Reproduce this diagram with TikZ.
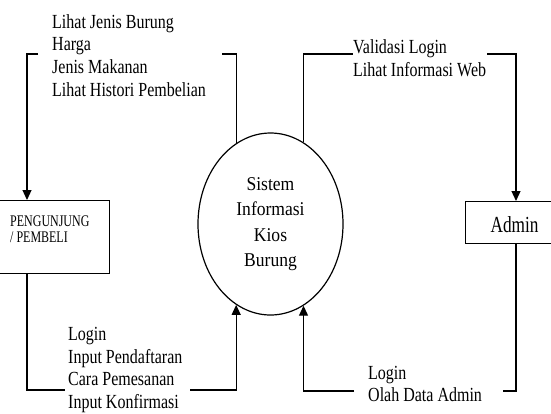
\documentclass[tikz,border=0pt]{standalone}
\usepackage{fontspec}
\setmainfont{Liberation Serif}
\newfontfamily\lblfont[FakeStretch=0.8]{Liberation Serif}
\newfontfamily\admfont[FakeStretch=0.75]{Liberation Serif}
\newfontfamily\pengfont[FakeStretch=0.74]{Liberation Serif}
\newfontfamily\sysfont[FakeStretch=0.9]{Liberation Serif}
\usetikzlibrary{arrows.meta,shapes.geometric}
\begin{document}
\begin{tikzpicture}[x=1pt,y=-1pt,
  seg/.style={line width=1.2pt},
  flow/.style={line width=1.2pt,-{Triangle[length=10pt,width=9pt]}},
  lbl/.style={font=\lblfont\fontsize{20}{22.7}\selectfont, align=left, inner sep=0pt, anchor=base west},
  ent/.style={draw, line width=1.2pt, rectangle, inner sep=0pt},
  proc/.style={draw, line width=1.2pt, ellipse, minimum width=145pt, minimum height=182pt,
    inner sep=0pt, align=center, font=\sysfont\fontsize{19.5}{25.5}\selectfont}]
\useasboundingbox (0,0) rectangle (551,413);
% nodes
\node[proc] (sys) at (270.5,224) {Sistem\\Informasi\\Kios\\Burung};
\node[ent, minimum width=112pt, minimum height=73pt, anchor=north west] (peng) at (-3,200) {};
\node[lbl, font=\pengfont\fontsize{16.2}{16.3}\selectfont] (pengtxt) at (10,242.3) {PENGUNJUNG\\/ PEMBELI};
\node[ent, minimum width=98pt, minimum height=42pt, anchor=north west,
  font=\admfont\fontsize{23}{24}\selectfont, text height=20.6pt, text depth=0pt] (admin) at (465,201) {Admin};
% labels (anchor = baseline of the last line)
\node[lbl] (l1) at (52,96.1) {Lihat Jenis Burung\\Harga\\Jenis Makanan\\Lihat Histori Pembelian};
\node[lbl] (l2) at (353,76.2) {Validasi Login\\Lihat Informasi Web};
\node[lbl] (l3) at (68,408.6) {Login\\Input Pendaftaran\\Cara Pemesanan\\Input Konfirmasi};
\node[lbl] (l4) at (368,401.7) {Login\\Olah Data Admin};
% helper coordinates
\coordinate (colL) at (27,0);
\coordinate (colR) at (516,0);
\coordinate (tlA) at (222,54);
\coordinate (tlB) at (38,54);
\coordinate (trA) at (353,54);
\coordinate (trB) at (487,54);
\coordinate (blA) at (65,390);
\coordinate (blB) at (190,390);
\coordinate (brA) at (503,391);
\coordinate (brB) at (354,391);
% connectors
\draw[seg] (sys.113) |- (tlA);
\draw[flow] (tlB) -| (peng.north -| colL);
\draw[seg] (sys.68) |- (trA);
\draw[flow] (trB) -| (admin.north -| colR);
\draw[seg] (peng.south -| colL) |- (blA);
\draw[flow] (blB) -| (sys.247);
\draw[seg] (admin.south -| colR) |- (brA);
\draw[flow] (brB) -| (sys.292);
\end{tikzpicture}
\end{document}
